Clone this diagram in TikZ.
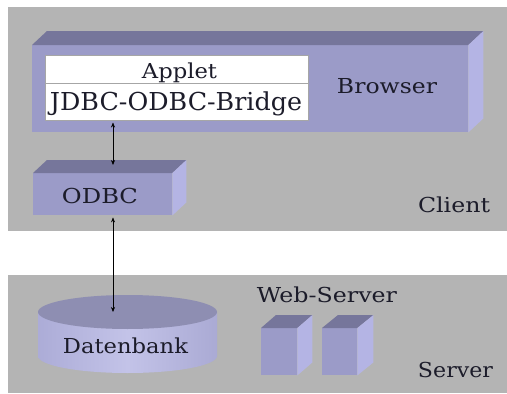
\documentclass[tikz,border=0pt]{standalone}
\usepackage{fontspec}
\setmainfont{DejaVu Serif}
\newfontfamily\serf{DejaVu Serif}
\usetikzlibrary{arrows.meta,calc,shapes.geometric}
\definecolor{panelgray}{RGB}{180,180,180}
\definecolor{frontc}{RGB}{155,155,200}
\definecolor{topc}{RGB}{118,118,155}
\definecolor{sidec}{RGB}{180,180,228}
\definecolor{cyltop}{RGB}{142,142,178}
\definecolor{cylL}{RGB}{172,172,215}
\definecolor{cylM}{RGB}{195,195,232}
\definecolor{cylR}{RGB}{170,170,212}
\definecolor{txtc}{RGB}{28,28,42}
\newcommand\hw[2]{\resizebox{#1pt}{\height}{#2}}
\newcommand\cubefaces[3]{%
  \fill[topc] (#1.north west) -- ++(#2,-#3) -- ($(#1.north east)+(#2,-#3)$) -- (#1.north east) -- cycle;
  \fill[sidec] (#1.north east) -- ++(#2,-#3) -- ($(#1.south east)+(#2,-#3)$) -- (#1.south east) -- cycle;}
\begin{document}
\begin{tikzpicture}[x=1pt,y=-1pt,
  panel/.style={fill=panelgray, inner sep=0, anchor=north west},
  cube/.style={fill=frontc, inner sep=0, anchor=north west},
  wbox/.style={fill=white, draw=black!35, line width=0.5pt, inner sep=0, anchor=north west},
  txt/.style={inner sep=0, anchor=base, text=txtc, font=\serf\fontsize{20.6}{24}\selectfont},
  arr/.style={{Stealth[length=5pt,width=4pt]}-{Stealth[length=5pt,width=4pt]}, line width=0.6pt, black}]
\useasboundingbox (0,0) rectangle (507,394);
\fill[white] (0,0) rectangle (507,394);
% panels
\node[panel, minimum width=499pt, minimum height=224pt] (client) at (8,7) {};
\node[panel, minimum width=499pt, minimum height=118pt] (server) at (8,275) {};
% browser box
\node[cube, minimum width=436pt, minimum height=87pt] (browser) at (32,45) {};
\cubefaces{browser}{15}{14}
% applet panel
\node[wbox, minimum width=263pt, minimum height=28pt] (applet) at (45,55) {};
\node[wbox, minimum width=263pt, minimum height=37pt] (jdbc) at (45,83) {};
% odbc box
\node[cube, minimum width=139pt, minimum height=42pt] (odbc) at (33,173) {};
\cubefaces{odbc}{14}{13}
% web servers
\node[cube, minimum width=36pt, minimum height=47pt] (ws1) at (261,328) {};
\cubefaces{ws1}{15}{13}
\node[cube, minimum width=35pt, minimum height=47pt] (ws2) at (322,328) {};
\cubefaces{ws2}{16}{13}
% database cylinder
\shade[left color=cylL, right color=cylR, middle color=cylM]
  (38,312) -- (38,356) arc[start angle=180, end angle=0, x radius=89.5, y radius=17] -- (217,312) -- cycle;
\node[ellipse, fill=cyltop, minimum width=179pt, minimum height=34pt, inner sep=0] (db) at (127.5,312) {};
% labels
\node[txt] (tapplet) at (179.5,78) {\hw{75}{Applet}};
\node[txt, font=\serf\fontsize{24.7}{28}\selectfont] (tjdbc) at (176,110) {\hw{252}{JDBC-ODBC-Bridge}};
\node[txt] (tbrowser) at (387,93) {\hw{100}{Browser}};
\node[txt] (todbc) at (100,203) {\hw{76}{ODBC}};
\node[txt] (tclient) at (454,212) {\hw{72}{Client}};
\node[txt] (tdb) at (125.5,353) {\hw{125}{Datenbank}};
\node[txt] (tws) at (327,302) {\hw{140}{Web-Server}};
\node[txt] (tserver) at (455.5,377) {\hw{75}{Server}};
% connectors
\coordinate (ax) at (113,0);
\draw[arr] ($(jdbc.south -| ax)+(0,2)$) -- ($(odbc.north -| ax)+(0,-8)$);
\draw[arr] ($(odbc.south -| ax)+(0,2)$) -- (db.center -| ax);
\end{tikzpicture}
\end{document}
